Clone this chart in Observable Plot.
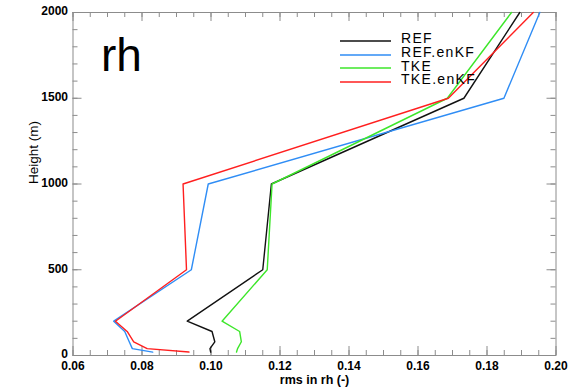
<!DOCTYPE html>
<html>
<head>
<meta charset="utf-8">
<script src="https://cdn.jsdelivr.net/npm/d3@7"></script>
<script src="https://cdn.jsdelivr.net/npm/@observablehq/plot@0.6"></script>
<style>
  html, body { margin: 0; padding: 0; background: #fff; }
  #wrap { position: relative; width: 568px; height: 391px; }
  #legend { position: absolute; left: 340px; top: 32px; font-family: "Liberation Sans", Arial, sans-serif; font-size: 14px; letter-spacing: 1.3px; color: #000; }
  #legend .row { display: flex; align-items: center; height: 13.8px; line-height: 13.8px; white-space: nowrap; }
  #legend svg { display: block; margin-right: 10px; position: relative; top: 2px; }
  svg text.spaced { letter-spacing: 0.5px; }
</style>
</head>
<body>
<div id="wrap"></div>
<script>
const heights = [20, 40, 80, 140, 200, 500, 1000, 1500, 2000];
const seriesNames = ["REF", "REF.enKF", "TKE", "TKE.enKF"];
const seriesColors = ["#111111", "#2f8df5", "#3de62a", "#ff1f1f"];
const ref      = [0.0999, 0.0997, 0.1011, 0.1003, 0.0931, 0.1150, 0.1175, 0.1733, 0.1895];
const refEnKF  = [0.0831, 0.0772, 0.0763, 0.0750, 0.0718, 0.0943, 0.0992, 0.1849, 0.1953];
const tke      = [0.1074, 0.1077, 0.1088, 0.1083, 0.1032, 0.1163, 0.1177, 0.1685, 0.1871];
const tkeEnKF  = [0.0936, 0.0815, 0.0776, 0.0757, 0.0723, 0.0929, 0.0919, 0.1688, 0.1934];
const xMajor = [0.06, 0.08, 0.10, 0.12, 0.14, 0.16, 0.18, 0.20];
const xMinor = d3.range(0, 29).map(i => 0.06 + i * 0.005);
const yMajor = [0, 500, 1000, 1500, 2000];
const yMinor = d3.range(0, 21).map(i => i * 100);

const allSeries = [ref, refEnKF, tke, tkeEnKF];
const rows = [];
allSeries.forEach((vals, s) => vals.forEach((v, i) => rows.push({series: seriesNames[s], x: v, h: heights[i]})));

const W = 568, H = 391, mL = 72.5, mR = 12.5, mT = 12, mB = 36;
const innerW = W - mL - mR, innerH = H - mT - mB;
const gray = "#8c8c8c";
const font = "'Liberation Sans', Arial, sans-serif";

const chart = Plot.plot({
  width: W,
  height: H,
  marginLeft: mL,
  marginRight: mR,
  marginTop: mT,
  marginBottom: mB,
  style: {fontFamily: font, background: "#fff"},
  x: {domain: [0.06, 0.20]},
  y: {domain: [0, 2000]},
  color: {domain: seriesNames, range: seriesColors},
  marks: [
    // inward ticks on all four sides
    Plot.ruleX(xMinor, {stroke: gray, insetTop: innerH - 5}),
    Plot.ruleX(xMajor, {stroke: gray, insetTop: innerH - 9}),
    Plot.ruleX(xMinor, {stroke: gray, insetBottom: innerH - 5}),
    Plot.ruleX(xMajor, {stroke: gray, insetBottom: innerH - 9}),
    Plot.ruleY(yMinor, {stroke: gray, insetRight: innerW - 5}),
    Plot.ruleY(yMajor, {stroke: gray, insetRight: innerW - 9}),
    Plot.ruleY(yMinor, {stroke: gray, insetLeft: innerW - 5}),
    Plot.ruleY(yMajor, {stroke: gray, insetLeft: innerW - 9}),
    Plot.frame({stroke: gray}),
    // tick labels
    Plot.axisX({anchor: "bottom", ticks: xMajor, tickSize: 0, tickPadding: 6, tickFormat: d3.format(".2f"),
      fontSize: 12, fontWeight: "bold", fill: "#000", label: null, className: "spaced"}),
    Plot.axisY({anchor: "left", ticks: yMajor, tickSize: 0, tickPadding: 5, tickFormat: d => String(d),
      fontSize: 12, fontWeight: "bold", fill: "#000", label: null, dy: -1, className: "spaced"}),
    Plot.text(["rms in rh (-)"], {frameAnchor: "bottom", dy: 28, fontSize: 12.5, fontWeight: "bold", fill: "#000", className: "spaced"}),
    Plot.text(["Height (m)"], {frameAnchor: "left", rotate: -90, dx: -39, fontSize: 13.5, fill: "#000"}),
    Plot.text(["rh"], {frameAnchor: "top-left", dx: 28, dy: 26, fontSize: 46, fill: "#000", fontFamily: font}),
    Plot.line(rows, {x: "x", y: "h", z: "series", stroke: "series", strokeWidth: 1.4})
  ]
});

const wrap = document.getElementById("wrap");
wrap.appendChild(chart);
const legend = document.createElement("div");
legend.id = "legend";
const NS = "http://www.w3.org/2000/svg";
seriesNames.forEach((n, i) => {
  const row = document.createElement("div");
  row.className = "row";
  const sw = document.createElementNS(NS, "svg");
  sw.setAttribute("width", "51");
  sw.setAttribute("height", "4");
  const ln = document.createElementNS(NS, "line");
  ln.setAttribute("x1", "0"); ln.setAttribute("x2", "51");
  ln.setAttribute("y1", "2"); ln.setAttribute("y2", "2");
  ln.setAttribute("stroke", seriesColors[i]);
  ln.setAttribute("stroke-width", "1.5");
  sw.appendChild(ln);
  const t = document.createElement("span");
  t.textContent = n;
  row.appendChild(sw); row.appendChild(t);
  legend.appendChild(row);
});
wrap.appendChild(legend);
</script>
</body>
</html>
